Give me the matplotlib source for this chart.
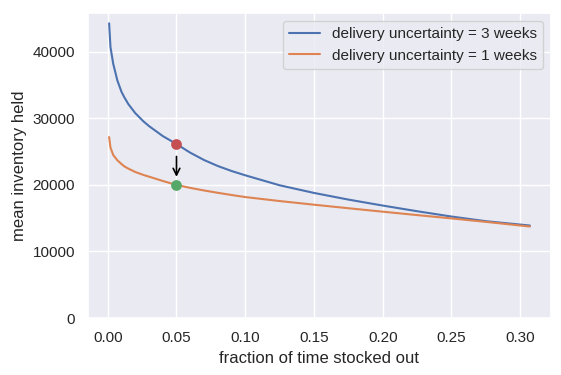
import matplotlib
matplotlib.use("Agg")
import matplotlib.pyplot as plt
import seaborn as sns

sns.set_theme()
plt.rcParams['font.family'] = ['Liberation Sans', 'DejaVu Sans']

# values
stockout = [0.001, 0.002, 0.004, 0.007, 0.01, 0.012, 0.015, 0.02, 0.026, 0.03, 0.04,
            0.05, 0.06, 0.07, 0.08, 0.09, 0.10, 0.125, 0.15, 0.175, 0.20, 0.225,
            0.25, 0.275, 0.307]
inv_3wk = [44300, 40700, 38200, 35700, 34000, 33200, 32150, 30800, 29550, 28850, 27350,
           26150, 24850, 23750, 22850, 22100, 21450, 19950, 18800, 17800, 16900, 16050,
           15250, 14550, 13900]
inv_1wk = [27200, 25600, 24500, 23700, 23150, 22800, 22450, 21950, 21500, 21250, 20600,
           20000, 19560, 19170, 18820, 18490, 18180, 17580, 17030, 16500, 15980, 15470,
           14970, 14450, 13750]
target_x = 0.05
before_y = 26200
after_y = 20000

fig, ax = plt.subplots(figsize=(5.61, 3.75), dpi=100)
ax.plot(stockout, inv_3wk, label="delivery uncertainty = 3 weeks")
ax.plot(stockout, inv_1wk, label="delivery uncertainty = 1 weeks")
ax.scatter([target_x], [before_y], color="C3", s=45, zorder=3)
ax.scatter([target_x], [after_y], color="C2", s=45, zorder=3)
ax.annotate("", xy=(target_x, 20800), xytext=(target_x, 24700),
            arrowprops=dict(arrowstyle="->", color="black", lw=1.2))

ax.set_ylim(bottom=0)
ax.set_xlabel("fraction of time stocked out")
ax.set_ylabel("mean inventory held")
ax.legend(loc="upper right")

plt.subplots_adjust(left=0.157, right=0.982, top=0.965, bottom=0.152)
plt.savefig("out.png")
